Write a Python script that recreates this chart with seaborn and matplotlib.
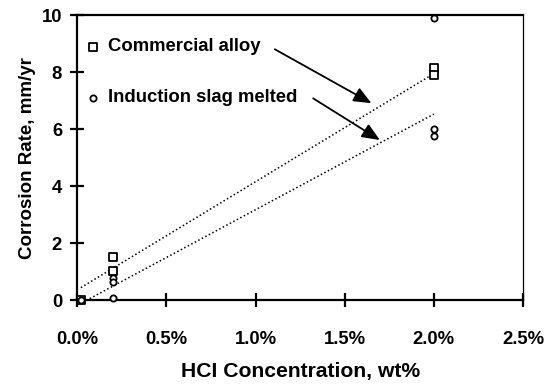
import matplotlib
matplotlib.use("Agg")
import matplotlib.pyplot as plt
import seaborn as sns
import pandas as pd
from matplotlib.ticker import FuncFormatter

# --- data (HCl concentration in wt%, corrosion rate in mm/yr) ---
comm_x = [0.02, 0.2, 0.2, 2.0, 2.0]
comm_y = [0.03, 1.54, 1.02, 8.15, 7.90]
ind_x = [0.02, 0.2, 0.2, 0.2, 2.0, 2.0, 2.0]
ind_y = [0.03, 0.78, 0.64, 0.09, 9.88, 6.00, 5.75]
# trendline endpoints
comm_trend_x = [0.02, 2.0]
comm_trend_y = [0.45, 7.95]
ind_trend_x = [0.05, 2.0]
ind_trend_y = [0.0, 6.53]
x_ticks = [0.0, 0.5, 1.0, 1.5, 2.0, 2.5]
y_ticks = [0, 2, 4, 6, 8, 10]
series_names = ["Commercial alloy", "Induction slag melted"]

sns.set_theme(style="white")
plt.rcParams["font.family"] = ["Liberation Sans", "DejaVu Sans"]
plt.rcParams["font.weight"] = "bold"

fig = plt.figure(figsize=(5.53, 3.85), dpi=100)
ax = fig.add_axes([0.1398, 0.2195, 0.8060, 0.7415])

comm_df = pd.DataFrame({"x": comm_x, "y": comm_y})
ind_df = pd.DataFrame({"x": ind_x, "y": ind_y})
ctr = pd.DataFrame({"x": comm_trend_x, "y": comm_trend_y})
itr = pd.DataFrame({"x": ind_trend_x, "y": ind_trend_y})

dot = (0, (1.0, 1.6))
sns.lineplot(data=ctr, x="x", y="y", ax=ax, color="black", lw=1.1,
             linestyle=dot, zorder=2)
sns.lineplot(data=itr, x="x", y="y", ax=ax, color="black", lw=1.1,
             linestyle=dot, zorder=2)

sns.scatterplot(data=comm_df, x="x", y="y", ax=ax, marker="s", s=30,
                facecolor="white", edgecolor="black", linewidth=1.3,
                zorder=3, clip_on=False)
sns.scatterplot(data=ind_df, x="x", y="y", ax=ax, marker="o", s=20,
                facecolor="white", edgecolor="black", linewidth=1.3,
                zorder=3, clip_on=False)

ax.set_xlim(0, 2.5)
ax.set_ylim(0, 10)
ax.set_xticks(x_ticks)
ax.set_yticks(y_ticks)
ax.xaxis.set_major_formatter(FuncFormatter(lambda v, p: f"{v:.1f}%"))
ax.tick_params(axis="both", which="major", direction="inout", length=10,
               width=1.6, color="black", labelsize=13.3, labelcolor="black",
               bottom=True, left=True, top=False, right=False)
ax.tick_params(axis="x", pad=17)
ax.tick_params(axis="y", pad=6)
for lab in ax.get_xticklabels() + ax.get_yticklabels():
    lab.set_fontweight("bold")

ax.set_xlabel("HCI Concentration, wt%", fontsize=15.2, fontweight="bold",
              color="black", labelpad=10)
ax.set_ylabel("Corrosion Rate, mm/yr", fontsize=13.5, fontweight="bold",
              color="black", labelpad=4)

for side in ["left", "bottom", "top"]:
    ax.spines[side].set_linewidth(1.6)
    ax.spines[side].set_color("black")
ax.spines["right"].set_linewidth(0.9)
ax.spines["right"].set_color("black")

# legend-like labels
ax.scatter([0.09], [8.89], marker="s", s=30, facecolor="white",
           edgecolor="black", linewidth=1.3, zorder=4)
ax.scatter([0.09], [7.11], marker="o", s=20, facecolor="white",
           edgecolor="black", linewidth=1.3, zorder=4)
ax.text(0.17, 8.89, series_names[0], fontsize=13.3, fontweight="bold",
        va="center", ha="left", color="black")
ax.text(0.17, 7.11, series_names[1], fontsize=13.3, fontweight="bold",
        va="center", ha="left", color="black")

arrow = dict(arrowstyle="-|>,head_length=0.9,head_width=0.38", color="black",
             lw=1.3, shrinkA=0, shrinkB=0)
ax.annotate("", xy=(1.650, 6.91), xytext=(1.108, 8.80), arrowprops=arrow)
ax.annotate("", xy=(1.697, 5.62), xytext=(1.323, 7.08), arrowprops=arrow)

fig.savefig("out.png", dpi=100)
